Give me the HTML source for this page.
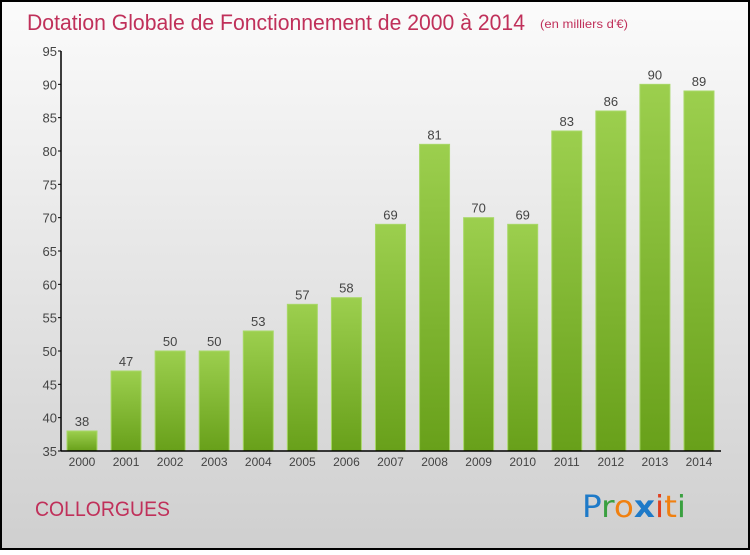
<!DOCTYPE html>
<html><head><meta charset="utf-8"><style>
html,body{margin:0;padding:0;}
body{width:750px;height:550px;overflow:hidden;font-family:"Liberation Sans",sans-serif;}
</style></head><body>
<svg id="chart" width="750" height="550" xmlns="http://www.w3.org/2000/svg">
<defs>
<linearGradient id="bg" x1="0" y1="0" x2="0" y2="1"><stop offset="0" stop-color="#fbfbfb"/><stop offset="1" stop-color="#cfcfcf"/></linearGradient>
<linearGradient id="bar" x1="0" y1="0" x2="0" y2="1"><stop offset="0" stop-color="#9ccf4e"/><stop offset="1" stop-color="#68a01a"/></linearGradient>
</defs>
<rect x="1" y="1" width="748" height="548" fill="url(#bg)" stroke="#000" stroke-width="2"/>
<text x="27" y="30" font-size="22" fill="#c0305a" font-family="'Liberation Sans',sans-serif" textLength="498" lengthAdjust="spacingAndGlyphs">Dotation Globale de Fonctionnement de 2000 à 2014</text>
<text x="540" y="28" font-size="12" fill="#c0305a" font-family="'Liberation Sans',sans-serif" textLength="88" lengthAdjust="spacingAndGlyphs">(en milliers d'€)</text>
<g id="yaxis"></g>
<g id="bars"></g>
<g id="xaxis"></g>
<text x="35" y="516" font-size="21" fill="#c0305a" textLength="135" lengthAdjust="spacingAndGlyphs">COLLORGUES</text>
<g font-size="30" font-family="'DejaVu Sans',sans-serif">
<text x="582" y="517" textLength="104" lengthAdjust="spacingAndGlyphs"><tspan fill="#1e7ac8">P</tspan><tspan fill="#3aa040">r</tspan><tspan fill="#f08010">o</tspan><tspan fill="#1e7ac8" font-weight="bold">x</tspan><tspan fill="#e04020">i</tspan><tspan fill="#f08010">t</tspan><tspan fill="#3aa040">i</tspan></text>
</g>
</svg>
<script>
const years=["2000","2001","2002","2003","2004","2005","2006","2007","2008","2009","2010","2011","2012","2013","2014"];
const values=[38,47,50,50,53,57,58,69,81,70,69,83,86,90,89];
const yTicks=[35,40,45,50,55,60,65,70,75,80,85,90,95];
const NS="http://www.w3.org/2000/svg";
const yMin=35,yMax=95,y0=451,y1=51,x0=61,step=44.07,bw=30,firstX=67;
const yS=v=>y0-(v-yMin)/(yMax-yMin)*(y0-y1);
const xS=i=>firstX+i*step;
function mk(t,a,p){const e=document.createElementNS(NS,t);for(const k in a)e.setAttribute(k,a[k]);p.appendChild(e);return e;}
const ya=document.getElementById('yaxis'),bg=document.getElementById('bars'),xa=document.getElementById('xaxis');
const al=mk('line',{x1:x0,y1:y1,x2:x0,y2:y0,stroke:'#000','stroke-width':1.5},ya);

yTicks.forEach(v=>{const y=yS(v);
 const tk=mk('line',{x1:x0-3,y1:y,x2:x0,y2:y,stroke:'#000'},ya);
 
 const t=mk('text',{x:x0-4,y:y+5,'text-anchor':'end','font-size':13,fill:'#444'},ya);t.textContent=v;
 });
values.forEach((v,i)=>{const x=xS(i),y=yS(v);
 const r=mk('rect',{x:x,y:y,width:bw,height:y0-y,fill:'url(#bar)',stroke:'#a8d868','stroke-width':1},bg);
 
 const t=mk('text',{x:x+bw/2,y:y-5,'text-anchor':'middle','font-size':13,fill:'#444'},bg);t.textContent=v;
 
 const l=mk('text',{x:x+bw/2,y:y0+15,'text-anchor':'middle','font-size':12,fill:'#444'},xa);l.textContent=years[i];
 });
const xl=mk('line',{x1:x0,y1:y0,x2:721,y2:y0,stroke:'#000','stroke-width':1.5},xa);

</script>
</body></html>
